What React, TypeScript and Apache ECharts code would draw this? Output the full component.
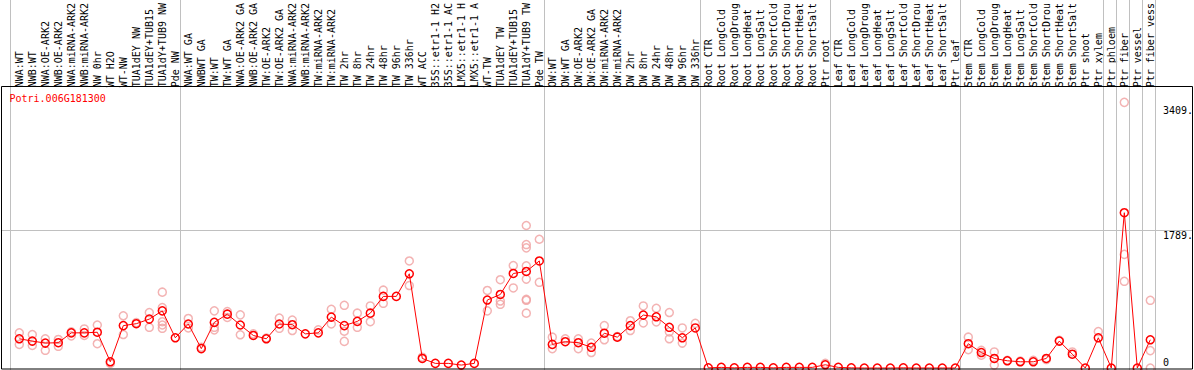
import React, { useEffect, useRef } from 'react';
import * as echarts from 'echarts';

const geneName = 'Potri.006G181300';

const categories: string[] = [
  'NWA:WT', 'NWB:WT', 'NWA:OE-ARK2', 'NWB:OE-ARK2', 'NWA:miRNA-ARK2', 'NWB:miRNA-ARK2', 'NW 0hr', 'WT H2O',
  'WT-NW', 'TUA1dEY NW', 'TUA1dEY+TUB15', 'TUA1dY+TUB9 NW', 'Pde NW',
  'NWA:WT GA', 'NWBWT GA', 'TW:WT', 'TW:WT GA', 'NWA:OE-ARK2 GA', 'NWB:OE-ARK2 GA', 'TW:OE-ARK2', 'TW:OE-ARK2 GA',
  'NWA:miRNA-ARK2', 'NWB:miRNA-ARK2', 'TW:miRNA-ARK2', 'TW:miRNA-ARK2', 'TW 2hr', 'TW 8hr', 'TW 24hr', 'TW 48hr',
  'TW 96hr', 'TW 336hr', 'WT ACC', '35S::etr1-1 H2', '35S::etr1-1 AC', 'LMX5::etr1-1 H', 'LMX5::etr1-1 A', 'WT-TW',
  'TUA1dEY TW', 'TUA1dEY+TUB15', 'TUA1dY+TUB9 TW', 'Pde TW',
  'OW:WT', 'OW:WT GA', 'OW:OE-ARK2', 'OW:OE-ARK2 GA', 'OW:miRNA-ARK2', 'OW:miRNA-ARK2', 'OW 2hr', 'OW 8hr',
  'OW 24hr', 'OW 48hr', 'OW 96hr', 'OW 336hr',
  'Root CTR', 'Root LongCold', 'Root LongDroug', 'Root LongHeat', 'Root LongSalt', 'Root ShortCold', 'Root ShortDrou',
  'Root ShortHeat', 'Root ShortSalt', 'Ptr root',
  'Leaf CTR', 'Leaf LongCold', 'Leaf LongDroug', 'Leaf LongHeat', 'Leaf LongSalt', 'Leaf ShortCold', 'Leaf ShortDrou',
  'Leaf ShortHeat', 'Leaf ShortSalt', 'Ptr leaf',
  'Stem CTR', 'Stem LongCold', 'Stem LongDroug', 'Stem LongHeat', 'Stem LongSalt', 'Stem ShortCold', 'Stem ShortDrou',
  'Stem ShortHeat', 'Stem ShortSalt', 'Ptr shoot', 'Ptr xylem',
  'Ptr phloem', 'Ptr fiber', 'Ptr vessel', 'Ptr fiber vess',
];

const meanValues: number[] = [
  380, 350, 324, 329, 457, 457, 465, 81, 551, 576, 636, 743, 393,
  572, 252, 593, 700, 559, 423, 380, 572, 563, 444, 457, 662, 551, 606, 713, 931,
  931, 1225, 124, 60, 60, 38, 60, 884, 956, 1229, 1255, 1392,
  307, 342, 329, 269, 452, 401, 551, 688, 666, 529, 393, 521,
  2, 8, 2, 8, 8, 2, 8, 8, 8, 42,
  8, 2, 0, 0, 0, 2, 0, 0, 0, 0,
  316, 201, 124, 94, 81, 81, 124, 350, 179, 0, 393,
  0, 2019, 0, 367,
];

const replicateValues: number[][] = [
  [457, 307], [435, 294], [380, 230], [371, 282], [418, 470], [508, 423], [559, 316], [60], [679, 435], [590],
  [721, 529], [986, 785, 602, 559, 516], [],
  [644, 521], [270], [743, 529, 496], [734, 657], [691, 432], [444], [390], [649, 516], [624, 487], [],
  [496], [764, 572], [815, 478, 346], [713, 529], [807, 602], [1012, 841], [], [1392, 1072], [140], [], [], [], [],
  [1008, 743], [1148, 871, 828], [1332, 1041], [1853, 1605, 1562, 1328, 1156, 893, 880, 713], [1674, 1114],
  [401, 252], [380], [380, 252], [324, 201], [551, 367], [410], [615, 487], [807, 585], [777, 600], [721, 470, 380],
  [521, 324], [580],
  [], [], [], [], [], [], [], [], [], [60],
  [], [], [], [], [], [], [], [], [], [],
  [401, 239], [166, 230], [209, 38], [100], [90], [100], [110], [360], [209], [], [474],
  [], [3454, 1477, 1127], [], [880, 226, 0],
];

// index of the last category of each block (a grey separator follows it)
const groupEnds: number[] = [12, 40, 52, 62, 72, 83, 84, 85, 86, 87];

const yTickValues: number[] = [0, 1789, 3409];
const yTickLabels: string[] = ['0', '1789.', '3409.'];
const gridLineValue = 1789;

const MONO = 'DejaVu Sans Mono, monospace';

export default function App() {
  const ref = useRef<HTMLDivElement>(null);

  useEffect(() => {
    document.body.style.margin = '0';
    if (!ref.current) return;
    const chart = echarts.init(ref.current, null, { renderer: 'svg' });

    const repData: number[][] = [];
    replicateValues.forEach((arr, i) => arr.forEach((v) => repData.push([i, v])));

    chart.setOption({
      animation: false,
      grid: { left: 12.8, right: 37.2, top: 86, bottom: 1, containLabel: false },
      xAxis: {
        type: 'category',
        position: 'top',
        data: categories,
        boundaryGap: true,
        axisLine: { show: false },
        axisTick: { show: false },
        splitLine: { show: false },
        axisLabel: {
          interval: 0,
          rotate: 90,
          margin: 3,
          fontFamily: MONO,
          fontSize: 10,
          color: '#000',
        },
      },
      yAxis: {
        type: 'value',
        min: -13,
        max: 3611,
        show: false,
        splitLine: { show: false },
      },
      series: [
        {
          type: 'scatter',
          data: repData,
          symbol: 'circle',
          symbolSize: 8,
          itemStyle: { color: 'rgba(0,0,0,0)', borderColor: '#f0a0a0', borderWidth: 1.5 },
          z: 2,
        },
        {
          type: 'line',
          data: meanValues,
          symbol: 'circle',
          symbolSize: 8,
          showAllSymbol: true,
          lineStyle: { color: '#ff0000', width: 1 },
          itemStyle: { color: 'rgba(0,0,0,0)', borderColor: '#ff0000', borderWidth: 1.5 },
          z: 3,
        },
      ],
    });

    const px = (i: number, v: number) => chart.convertToPixel({ gridIndex: 0 }, [i, v]) as number[];
    const graphics: any[] = [];
    const sepXs: number[] = [px(0, 0)[0] - 9];
    groupEnds.forEach((e) => sepXs.push(px(e, 0)[0] + 5));
    sepXs.forEach((x) => {
      const xx = Math.floor(x) + 0.5;
      graphics.push({
        type: 'line',
        shape: { x1: xx, y1: 0, x2: xx, y2: 370 },
        style: { stroke: '#c0c0c0', lineWidth: 1 },
        z: 1,
      });
    });
    const gy = Math.floor(px(0, gridLineValue)[1]) + 0.5;
    graphics.push({
      type: 'line',
      shape: { x1: 2, y1: gy, x2: 1192, y2: gy },
      style: { stroke: '#c0c0c0', lineWidth: 1 },
      z: 1,
    });
    graphics.push({
      type: 'rect',
      shape: { x: 1.5, y: 86.5, width: 1191, height: 282.5 },
      style: { fill: 'none', stroke: '#000', lineWidth: 1 },
      z: 5,
    });
    yTickValues.forEach((v, k) => {
      const y = px(0, v)[1];
      graphics.push({
        type: 'text',
        x: 1163,
        y: v === 0 ? y - 6 : y + 5,
        style: {
          text: yTickLabels[k],
          font: `10px ${MONO}`,
          fill: '#000',
          verticalAlign: 'middle',
          align: 'left',
        },
        z: 6,
      });
    });
    graphics.push({
      type: 'text',
      x: 9.5,
      y: 98.5,
      style: {
        text: geneName,
        font: `10px ${MONO}`,
        fill: '#ff0000',
        verticalAlign: 'middle',
        align: 'left',
      },
      z: 6,
    });
    chart.setOption({ graphic: graphics });

    return () => chart.dispose();
  }, []);

  return <div ref={ref} style={{ width: 1194, height: 370 }} />;
}
